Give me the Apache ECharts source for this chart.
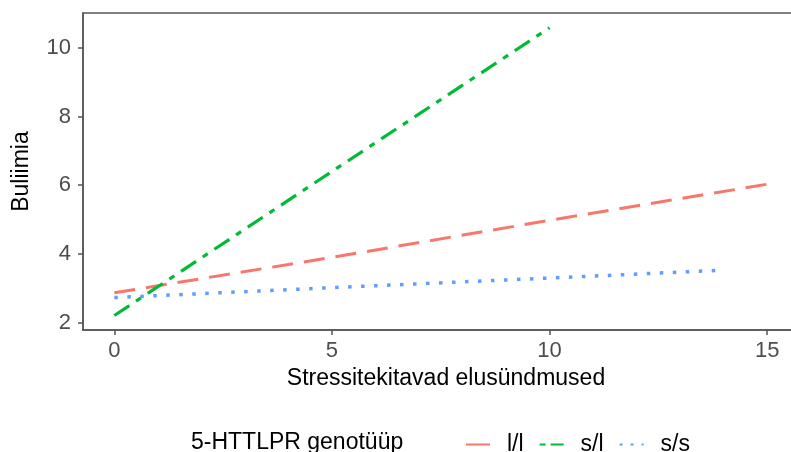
<!DOCTYPE html>
<html>
<head>
<meta charset="utf-8">
<script src="https://cdn.jsdelivr.net/npm/echarts@6/dist/echarts.min.js"></script>
<style>html,body{margin:0;padding:0;background:#fff}#c{width:791px;height:452px}</style>
</head>
<body>
<div id="c"></div>
<script>
// Data (fitted straight lines)
const seriesNames = ['l/l', 's/l', 's/s'];
const llData = [[0, 2.87], [5, 3.9], [10, 4.98], [15.2, 6.07]];
const slData = [[0, 2.21], [5, 6.4], [10, 10.58]];
const ssData = [[0, 2.73], [5, 3.02], [10, 3.3], [14, 3.53]];
const xTicks = [0, 5, 10, 15];
const yTicks = [2, 4, 6, 8, 10];
const xTitle = 'Stressitekitavad elusündmused';
const yTitle = 'Buliimia';
const legendTitle = '5-HTTLPR genotüüp';

const FONT = 'Liberation Sans';
const colors = ['#F8766D', '#00BA38', '#619CFF'];

const chart = echarts.init(document.getElementById('c'));
chart.setOption({
  animation: false,
  textStyle: { fontFamily: FONT },
  title: {
    text: legendTitle, left: 186, top: 426,
    textStyle: { fontFamily: FONT, fontSize: 23, fontWeight: 'normal', color: '#000' }
  },
  legend: {
    left: 460, top: 428, itemWidth: 24, itemHeight: 14, itemGap: 15,
    itemStyle: { opacity: 0, borderWidth: 0 },
    textStyle: { fontFamily: FONT, fontSize: 23, color: '#000', padding: [0, 0, 0, 12] },
    data: [
      { name: seriesNames[0], lineStyle: { type: 'solid' } },
      { name: seriesNames[1], lineStyle: { type: [6, 5, 13, 5] } },
      { name: seriesNames[2], lineStyle: { type: [3, 8] } }
    ]
  },
  grid: {
    left: 83, top: 13, width: 726, height: 317,
    show: true, borderColor: '#555', borderWidth: 1.5,
    containLabel: false, outerBoundsMode: 'none'
  },
  xAxis: {
    type: 'value', min: -0.72, max: 15.96,
    name: xTitle, nameLocation: 'middle', nameGap: 37,
    nameTextStyle: { fontFamily: FONT, fontSize: 23, color: '#000' },
    axisLine: { show: true, onZero: false, lineStyle: { color: '#555', width: 1.5 } },
    axisTick: { show: true, length: 5, lineStyle: { color: '#555', width: 1.5 }, customValues: xTicks },
    axisLabel: { fontFamily: FONT, fontSize: 22, color: '#4D4D4D', margin: 10, customValues: xTicks },
    splitLine: { show: false }
  },
  yAxis: {
    type: 'value', min: 1.788, max: 11.01,
    name: yTitle, nameLocation: 'middle', nameGap: 50, nameRotate: 90,
    nameTextStyle: { fontFamily: FONT, fontSize: 23, color: '#000' },
    axisLine: { show: true, onZero: false, lineStyle: { color: '#555', width: 1.5 } },
    axisTick: { show: true, length: 5, lineStyle: { color: '#555', width: 1.5 }, customValues: yTicks },
    axisLabel: { fontFamily: FONT, fontSize: 22, color: '#4D4D4D', margin: 12, customValues: yTicks },
    splitLine: { show: false }
  },
  series: [
    { name: seriesNames[0], type: 'line', data: llData, symbol: 'none', showSymbol: false,
      color: colors[0], lineStyle: { color: colors[0], width: 3, type: [21, 11] } },
    { name: seriesNames[1], type: 'line', data: slData, symbol: 'none', showSymbol: false,
      color: colors[1], lineStyle: { color: colors[1], width: 3.2, type: [18, 8, 6, 8] } },
    { name: seriesNames[2], type: 'line', data: ssData, symbol: 'none', showSymbol: false,
      color: colors[2], lineStyle: { color: colors[2], width: 3.5, type: [3.5, 9.5] } }
  ]
});
</script>
</body>
</html>
